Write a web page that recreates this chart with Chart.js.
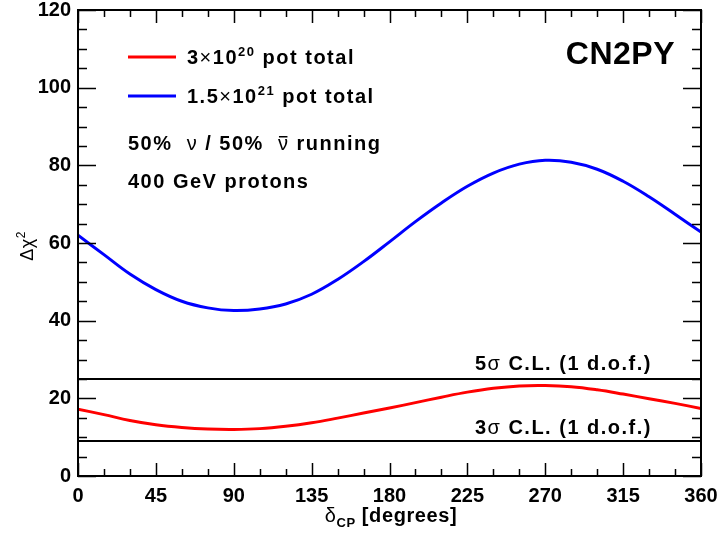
<!DOCTYPE html>
<html>
<head>
<meta charset="utf-8">
<script src="https://cdn.jsdelivr.net/npm/chart.js@4.4.0/dist/chart.umd.min.js"></script>
<style>
html, body { margin: 0; padding: 0; background: #fff; }
#wrap { width: 723px; height: 536px; }
</style>
</head>
<body>
<div id="wrap"><canvas id="chi-chart" width="723" height="536"></canvas></div>
<script>
// delta_CP in degrees
var delta_cp = [0, 15, 30, 45, 60, 75, 90, 105, 120, 135, 150, 165, 180, 195, 210, 225, 240, 255, 270, 285, 300, 315, 330, 345, 360];
// 3x10^20 pot total (red)
var chi2_low = [17.2, 15.8, 14.3, 13.2, 12.5, 12.1, 12.0, 12.2, 12.8, 13.7, 14.9, 16.2, 17.5, 18.9, 20.3, 21.6, 22.6, 23.2, 23.3, 23.0, 22.2, 21.1, 19.9, 18.7, 17.4];
// 1.5x10^21 pot total (blue)
var chi2_high = [62.0, 57.0, 52.0, 48.0, 45.0, 43.3, 42.6, 43.0, 44.3, 46.8, 50.6, 55.2, 60.3, 65.5, 70.3, 74.6, 78.0, 80.3, 81.3, 80.8, 79.0, 75.9, 71.9, 67.4, 62.8];
var cl_levels = [25, 9];
var cl_labels = ["5", "3"];

var FONT = '"Liberation Sans", Arial, Helvetica, sans-serif';

function pts(ys) {
	return delta_cp.map(function(d, i) { return { x: d, y: ys[i] }; });
}

// draw a run of text pieces, left to right
function drawParts(ctx, parts, x, y, align, spacing) {
	ctx.letterSpacing = (spacing || 0) + "px";
	var total = 0;
	parts.forEach(function(p) { ctx.font = p.font; total += ctx.measureText(p.t).width; });
	if (align === "right") x -= total;
	if (align === "center") x -= total / 2;
	ctx.textAlign = "left";
	ctx.textBaseline = "alphabetic";
	parts.forEach(function(p) {
		ctx.font = p.font;
		ctx.fillText(p.t, x, y + (p.dy || 0));
		var w = ctx.measureText(p.t).width;
		if (p.bar) {
			ctx.fillRect(x + 1, y - 14, w - 3, 1.5);
		}
		x += w;
	});
	ctx.letterSpacing = "0px";
}

var B = "bold 20px " + FONT;
var R = "20px " + FONT;
var S = "bold 13px " + FONT;
var SP = 1.5;

var decorPlugin = {
	id: "decor",
	afterDatasetsDraw: function(chart) {
		var ctx = chart.ctx;
		var xs = chart.scales.x, ys = chart.scales.y;
		var a = chart.chartArea;
		ctx.save();
		ctx.strokeStyle = "#000";
		ctx.fillStyle = "#000";

		// ticks on all four sides
		ctx.lineWidth = 1.5;
		ctx.beginPath();
		for (var d = 0; d <= 360; d += 15) {
			var px = Math.round(xs.getPixelForValue(d)) + 0.5;
			var len = (d % 45 === 0) ? 13 : 7;
			ctx.moveTo(px, a.bottom); ctx.lineTo(px, a.bottom - len);
			ctx.moveTo(px, a.top); ctx.lineTo(px, a.top + len);
		}
		for (var v = 0; v <= 120; v += 5) {
			var py = Math.round(ys.getPixelForValue(v)) + 0.5;
			var l2 = (v % 20 === 0) ? 18 : 9;
			ctx.moveTo(a.left, py); ctx.lineTo(a.left + l2, py);
			ctx.moveTo(a.right, py); ctx.lineTo(a.right - l2, py);
		}
		ctx.stroke();

		// frame
		ctx.lineWidth = 2;
		ctx.strokeRect(a.left, a.top, a.right - a.left, a.bottom - a.top);

		// legend
		var legend = [
			{ color: "#ff0000", y: 57, parts: [{ t: "3", font: B }, { t: "\u00d7", font: R }, { t: "10", font: B }, { t: "20", font: S, dy: -8 }, { t: " pot total", font: B }] },
			{ color: "#0000ff", y: 96, parts: [{ t: "1.5", font: B }, { t: "\u00d7", font: R }, { t: "10", font: B }, { t: "21", font: S, dy: -8 }, { t: " pot total", font: B }] }
		];
		legend.forEach(function(e) {
			ctx.strokeStyle = e.color;
			ctx.lineWidth = 3;
			ctx.beginPath();
			ctx.moveTo(128, e.y); ctx.lineTo(176, e.y);
			ctx.stroke();
			ctx.fillStyle = "#000";
			drawParts(ctx, e.parts, 187, e.y + 7, "left", SP);
		});

		drawParts(ctx, [{ t: "50%  ", font: B }, { t: "\u03bd", font: R }, { t: " / 50%  ", font: B }, { t: "\u03bd", font: R, bar: true }, { t: " running", font: B }], 128, 150, "left", SP);
		drawParts(ctx, [{ t: "400 GeV protons", font: B }], 128, 188, "left", SP);
		drawParts(ctx, [{ t: "CN2PY", font: "bold 32px " + FONT }], 675, 64, "right", 0.5);

		// C.L. labels
		cl_levels.forEach(function(lv, i) {
			var py = ys.getPixelForValue(lv);
			var by = i === 0 ? py - 9 : py - 7;
			drawParts(ctx, [{ t: cl_labels[i], font: B }, { t: "\u03c3", font: R }, { t: " C.L. (1 d.o.f.)", font: B }], 652, by, "right", SP);
		});

		// x axis title
		drawParts(ctx, [{ t: "\u03b4", font: R }, { t: "CP", font: S, dy: 5 }, { t: " [degrees]", font: B }], 391, 522, "center", 0.6);

		// y axis title, rotated
		ctx.translate(33, 246);
		ctx.rotate(-Math.PI / 2);
		drawParts(ctx, [{ t: "\u0394\u03c7", font: "18px " + FONT }, { t: "2", font: "12px " + FONT, dy: -8 }], 0, 0, "center", 0.5);
		ctx.restore();
	}
};

new Chart(document.getElementById("chi-chart"), {
	type: "line",
	data: {
		datasets: [
			{
				label: "1.5x10^21 pot total",
				data: pts(chi2_high),
				borderColor: "#0000ff",
				borderWidth: 3,
				pointRadius: 0,
				tension: 0.4
			},
			{
				label: "3x10^20 pot total",
				data: pts(chi2_low),
				borderColor: "#ff0000",
				borderWidth: 3,
				pointRadius: 0,
				tension: 0.4
			},
			{
				label: "5 sigma",
				data: [{ x: 0, y: cl_levels[0] }, { x: 360, y: cl_levels[0] }],
				borderColor: "#000",
				borderWidth: 2,
				pointRadius: 0
			},
			{
				label: "3 sigma",
				data: [{ x: 0, y: cl_levels[1] }, { x: 360, y: cl_levels[1] }],
				borderColor: "#000",
				borderWidth: 2,
				pointRadius: 0
			}
		]
	},
	options: {
		responsive: false,
		animation: false,
		devicePixelRatio: 1,
		layout: { padding: { left: 0, right: 22, top: 10, bottom: 0 } },
		plugins: { legend: { display: false }, tooltip: { enabled: false } },
		scales: {
			x: {
				type: "linear",
				min: 0,
				max: 360,
				ticks: { stepSize: 45, color: "#000", font: { family: FONT, size: 20, weight: "bold" }, padding: 8, maxRotation: 0 },
				grid: { display: false, drawTicks: false },
				border: { display: false },
				afterFit: function(s) { s.height = 60; s.paddingLeft = 0; s.paddingRight = 0; }
			},
			y: {
				min: 0,
				max: 120,
				ticks: { stepSize: 20, color: "#000", font: { family: FONT, size: 20, weight: "bold" }, padding: 7 },
				grid: { display: false, drawTicks: false },
				border: { display: false },
				afterFit: function(s) { s.width = 78; s.paddingTop = 0; s.paddingBottom = 0; }
			}
		}
	},
	plugins: [decorPlugin]
});
</script>
</body>
</html>
